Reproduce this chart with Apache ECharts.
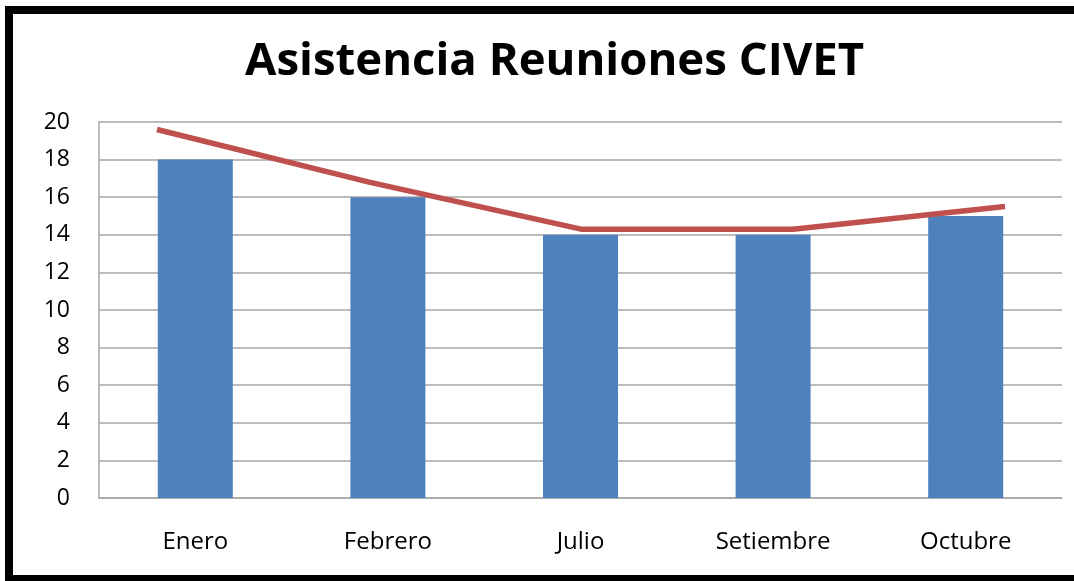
<!DOCTYPE html>
<html>
<head>
<meta charset="utf-8">
<script src="https://cdn.jsdelivr.net/npm/echarts@6/dist/echarts.min.js"></script>
<style>
  html, body { margin: 0; padding: 0; background: #fff; }
  #main { width: 1074px; height: 581px; }
</style>
</head>
<body>
<div id="main"></div>
<script>
// chart data
const months = ["Enero", "Febrero", "Julio", "Setiembre", "Octubre"];
const attendance = [18, 16, 14, 14, 15];
const trend = [19.6, 16.8, 14.3, 14.3, 15.5];

const chart = echarts.init(document.getElementById("main"));

const option = {
  animation: false,
  backgroundColor: "#fff",
  textStyle: { fontFamily: "Open Sans" },
  title: {
    text: "Asistencia Reuniones CIVET",
    left: 240,
    top: 34,
    textStyle: { fontFamily: "Open Sans", fontWeight: "bold", fontSize: 45.5, color: "#000" },
  },
  grid: [
    { left: 99, right: 12, top: 122, bottom: 83 },
    { left: 157, right: 69, top: 122, bottom: 83 },
  ],
  xAxis: [
    {
      type: "category",
      gridIndex: 0,
      data: months,
      axisLine: { lineStyle: { color: "#A6A6A6", width: 1.5 } },
      axisTick: { show: false },
      axisLabel: { color: "#000", fontSize: 24, margin: 32 },
    },
    {
      type: "category",
      gridIndex: 1,
      data: months,
      boundaryGap: false,
      show: false,
    },
  ],
  yAxis: [
    {
      type: "value",
      gridIndex: 0,
      min: 0,
      max: 20,
      interval: 2,
      axisLine: { show: true, lineStyle: { color: "#A6A6A6", width: 1.5 } },
      axisTick: { show: false },
      splitLine: { lineStyle: { color: "#A6A6A6", width: 1.5 } },
      axisLabel: { color: "#000", fontSize: 23, margin: 29 },
    },
    {
      type: "value",
      gridIndex: 1,
      min: 0,
      max: 20,
      show: false,
      splitLine: { show: false },
    },
  ],
  series: [
    {
      name: "Asistencia",
      type: "bar",
      xAxisIndex: 0,
      yAxisIndex: 0,
      data: attendance,
      barWidth: 75,
      itemStyle: { color: "#4F81BD" },
    },
    {
      name: "Tendencia",
      type: "line",
      xAxisIndex: 1,
      yAxisIndex: 1,
      data: trend,
      showSymbol: false,
      lineStyle: { color: "#C0504D", width: 5.5 },
    },
  ],
  graphic: [
    // black frame around the chart
    { type: "rect", shape: { x: 5, y: 6, width: 8, height: 575 }, style: { fill: "#000" } },
    { type: "rect", shape: { x: 5, y: 6, width: 1069, height: 8 }, style: { fill: "#000" } },
    { type: "rect", shape: { x: 5, y: 575, width: 1069, height: 6 }, style: { fill: "#000" } },
  ],
};

chart.setOption(option);
</script>
</body>
</html>
